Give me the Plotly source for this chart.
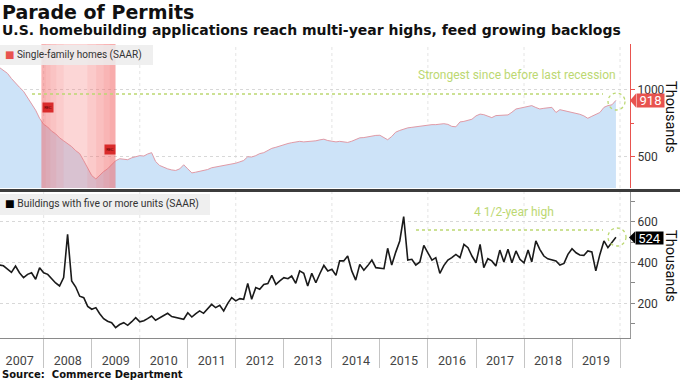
import pandas as pd
import plotly.graph_objects as go

# ---------------- data (thousands, SAAR), Jan 2007 .. Nov 2019 ----------------
months = pd.period_range("2007-01", "2019-11", freq="M")

single_family = [
    1160, 1140, 1118, 1080, 1045, 1015, 985, 940, 890, 845, 785, 740,
    720, 690, 670, 640, 618, 600, 575, 545, 523, 470, 415, 360,
    335, 364, 390, 410, 440, 470, 485, 480, 478, 492, 498, 508,
    505, 520, 530, 465, 435, 422, 410, 402, 398, 410, 440, 410,
    380, 385, 392, 400, 405, 418, 424, 428, 432, 438, 447, 452,
    462, 472, 500, 498, 508, 523, 530, 548, 562, 570, 580, 592,
    598, 604, 608, 614, 610, 612, 614, 618, 625, 630, 620, 614,
    610, 614, 610, 606, 615, 630, 640, 642, 648, 652, 658, 659,
    640, 626, 650, 682, 695, 705, 714, 718, 722, 726, 733, 735,
    738, 738, 740, 745, 740, 725, 722, 758, 762, 770, 778, 803,
    816, 812, 800, 790, 805, 808, 806, 810, 830, 854, 860, 866,
    868, 879, 865, 854, 859, 862, 866, 828, 849, 842, 836, 828,
    822, 815, 803, 785, 800, 816, 828, 866, 879, 885, 918,
]

five_plus = [
    388, 384, 368, 352, 383, 350, 326, 342, 350, 318, 375, 350,
    342, 320, 300, 285, 326, 538, 310, 280, 235, 228, 185, 171,
    179, 150, 125, 112, 105, 81, 96, 105, 92, 110, 130, 109,
    115, 125, 138, 117, 128, 141, 151, 135, 130, 125, 122, 154,
    133, 148, 163, 151, 175, 195, 179, 190, 163, 200, 228, 212,
    223, 220, 297, 220, 277, 269, 293, 297, 337, 293, 310, 326,
    321, 334, 298, 359, 347, 285, 347, 301, 345, 386, 359, 367,
    337, 408, 408, 432, 359, 314, 391, 362, 385, 412, 375, 372,
    370, 470, 388, 450, 506, 625, 412, 416, 388, 403, 484, 448,
    412, 424, 347, 385, 412, 424, 440, 424, 489, 473, 432, 399,
    489, 375, 419, 408, 383, 461, 403, 465, 399, 457, 416, 399,
    461, 403, 506, 465, 432, 418, 412, 408, 388, 396, 440, 468,
    448, 437, 435, 457, 452, 359, 440, 506, 473, 500, 524,
]

year_labels = list(range(2007, 2020))
top_ticks = [500, 1000]
bottom_ticks = [200, 400, 600]
bottom_minor = [100, 300, 500, 700]
recession = ("2007-12-15", "2009-06-30")
sf_last = single_family[-1]
mf_last = five_plus[-1]

dates = months.to_timestamp(how="end")

# ---------------- geometry helpers (pixel -> paper) ----------------
W, H = 680, 380
ML, MR, MT, MB = 0, 50, 44, 42
PW, PH = W - ML - MR, H - MT - MB


def PX(x):
    return (x - ML) / PW


def PY(y):
    return (H - MB - y) / PH


TOP_DOM = [PY(188), 1.0]
BOT_DOM = [0.0, PY(192)]

RED = "#e8534f"
GREEN = "#bcd872"
GRID = "#d8d8d8"
VGRID = "#e4e4e4"
TXT = "#333333"
FONT = "Roboto, DejaVu Sans, sans-serif"

fig = go.Figure()

fig.add_trace(go.Scatter(
    x=dates, y=single_family, xaxis="x", yaxis="y2", mode="lines",
    fill="tozeroy", fillcolor="#cde3f8",
    line=dict(color="#e09aa6", width=1), showlegend=False, hoverinfo="skip",
))
fig.add_trace(go.Scatter(
    x=dates, y=five_plus, xaxis="x", yaxis="y", mode="lines",
    line=dict(color="#1a1a1a", width=1.6), showlegend=False, hoverinfo="skip",
))

shapes = []
# vertical dotted gridlines every two years
for yr in range(2008, 2021, 2):
    for dom in (TOP_DOM, BOT_DOM):
        shapes.append(dict(type="line", xref="x", yref="paper",
                           x0=f"{yr}-01-01", x1=f"{yr}-01-01", y0=dom[0], y1=dom[1],
                           line=dict(color=VGRID, width=1, dash="dot"), layer="below"))

# recession shading with soft gradient (edges stronger)
shapes.append(dict(type="rect", xref="x", yref="paper", x0=recession[0], x1=recession[1],
                   y0=TOP_DOM[0], y1=TOP_DOM[1], fillcolor="rgba(246,120,120,0.30)",
                   line=dict(width=0), layer="above"))
r0 = pd.Timestamp(recession[0])
r1 = pd.Timestamp(recession[1])
span = r1 - r0
for f in (0.06, 0.12, 0.2, 0.3):
    shapes.append(dict(type="rect", xref="x", yref="paper", x0=r0, x1=r0 + span * f,
                       y0=TOP_DOM[0], y1=TOP_DOM[1], fillcolor="rgba(240,90,90,0.08)",
                       line=dict(width=0), layer="above"))
for f in (0.08, 0.16, 0.26, 0.38):
    shapes.append(dict(type="rect", xref="x", yref="paper", x0=r1 - span * f, x1=r1,
                       y0=TOP_DOM[0], y1=TOP_DOM[1], fillcolor="rgba(240,90,90,0.09)",
                       line=dict(width=0), layer="above"))

# separator between panels
shapes.append(dict(type="line", xref="paper", yref="paper", x0=PX(0), x1=PX(680),
                   y0=PY(190.5), y1=PY(190.5), line=dict(color="#3c3c3c", width=3)))

# legend boxes
shapes.append(dict(type="rect", xref="paper", yref="paper", x0=PX(0), x1=PX(153),
                   y0=PY(65), y1=PY(45), fillcolor="rgba(236,236,236,0.85)", line=dict(width=0)))
shapes.append(dict(type="rect", xref="paper", yref="paper", x0=PX(0), x1=PX(210),
                   y0=PY(215), y1=PY(194), fillcolor="rgba(236,236,236,0.85)", line=dict(width=0)))

# green reference lines and circles
shapes.append(dict(type="line", xref="paper", yref="paper", x0=PX(32), x1=PX(603),
                   y0=PY(94), y1=PY(94), line=dict(color=GREEN, width=1.5, dash="dot")))
shapes.append(dict(type="circle", xref="paper", yref="paper", x0=PX(608), x1=PX(625),
                   y0=PY(110), y1=PY(93), line=dict(color=GREEN, width=1.3, dash="dot")))
shapes.append(dict(type="line", xref="paper", yref="paper", x0=PX(416), x1=PX(603),
                   y0=PY(230), y1=PY(230), line=dict(color=GREEN, width=1.5, dash="dot")))
shapes.append(dict(type="circle", xref="paper", yref="paper", x0=PX(608), x1=PX(626),
                   y0=PY(246), y1=PY(228), line=dict(color=GREEN, width=1.3, dash="dot")))

# last-value tag pointers
shapes.append(dict(type="path", xref="paper", yref="paper",
                   path=f"M {PX(630)},{PY(100.5)} L {PX(636)},{PY(93.5)} L {PX(636)},{PY(107.5)} Z",
                   fillcolor=RED, line=dict(width=0)))
shapes.append(dict(type="path", xref="paper", yref="paper",
                   path=f"M {PX(629)},{PY(237.5)} L {PX(635)},{PY(231.5)} L {PX(635)},{PY(243.5)} Z",
                   fillcolor="#000000", line=dict(width=0)))

ann = []
ann.append(dict(text="<b>Parade of Permits</b>", x=PX(0), y=PY(12), xref="paper", yref="paper",
                xanchor="left", yanchor="middle", showarrow=False,
                font=dict(family="DejaVu Sans", size=19, color="#111")))
ann.append(dict(text="<b>U.S. homebuilding applications reach multi-year highs, feed growing backlogs</b>",
                x=PX(0), y=PY(30), xref="paper", yref="paper", xanchor="left", yanchor="middle",
                showarrow=False, font=dict(family="DejaVu Sans", size=14, color="#111")))
ann.append(dict(text="<b>Source:  Commerce Department</b>", x=PX(0), y=PY(374), xref="paper",
                yref="paper", xanchor="left", yanchor="middle", showarrow=False,
                font=dict(family="DejaVu Sans", size=10, color="#111")))
ann.append(dict(text=f"<span style='color:{RED}'>■</span> Single-family homes (SAAR)",
                x=PX(3), y=PY(55), xref="paper", yref="paper", xanchor="left", yanchor="middle",
                showarrow=False, font=dict(family=FONT, size=10, color=TXT)))
ann.append(dict(text="<span style='color:#000'>■</span> Buildings with five or more units (SAAR)",
                x=PX(3), y=PY(204), xref="paper", yref="paper", xanchor="left", yanchor="middle",
                showarrow=False, font=dict(family=FONT, size=10.3, color=TXT)))
ann.append(dict(text="Strongest since before last recession", x=PX(517), y=PY(75), xref="paper",
                yref="paper", xanchor="center", yanchor="middle", showarrow=False,
                font=dict(family=FONT, size=12, color=GREEN)))
ann.append(dict(text="4 1/2-year high", x=PX(514), y=PY(212), xref="paper", yref="paper",
                xanchor="center", yanchor="middle", showarrow=False,
                font=dict(family=FONT, size=12, color=GREEN)))
ann.append(dict(text=str(sf_last), x=PX(636), y=PY(100.5), xref="paper", yref="paper",
                xanchor="left", yanchor="middle", showarrow=False, bgcolor=RED,
                width=27, height=13, borderpad=0,
                font=dict(family=FONT, size=13, color="#ffffff")))
ann.append(dict(text=str(mf_last), x=PX(635), y=PY(237.5), xref="paper", yref="paper",
                xanchor="left", yanchor="middle", showarrow=False, bgcolor="#000000",
                width=27, height=12, borderpad=0,
                font=dict(family=FONT, size=13, color="#ffffff")))
for yy in (117, 266):
    ann.append(dict(text="Thousands", x=PX(671), y=PY(yy), xref="paper", yref="paper",
                    xanchor="center", yanchor="middle", showarrow=False, textangle=90,
                    borderpad=0, font=dict(family=FONT, size=14.5, color="#111")))
# recession markers
for (px, py) in ((48, 107), (110, 149)):
    ann.append(dict(text="REC", x=PX(px), y=PY(py), xref="paper", yref="paper",
                    xanchor="center", yanchor="middle", showarrow=False, bgcolor="#d92b2b",
                    width=10, height=9, borderpad=0,
                    font=dict(family=FONT, size=4, color="#5a0000")))

fig.update_layout(
    width=W, height=H, margin=dict(l=ML, r=MR, t=MT, b=MB, autoexpand=False),
    paper_bgcolor="white", plot_bgcolor="white",
    font=dict(family=FONT, color=TXT),
    showlegend=False,
    xaxis=dict(
        anchor="y", range=["2007-02-03", "2020-03-17"], type="date",
        dtick="M12", tick0="2008-01-01", tickformat="%Y", ticklabelmode="period",
        ticks="outside", ticklen=29, tickcolor="#c4c4c4", tickwidth=1,
        ticklabelstandoff=-18, automargin=False,
        showline=True, linecolor="#8a8a8a", linewidth=1, showgrid=False, zeroline=False,
        tickfont=dict(family=FONT, size=12.5, color="#444"),
    ),
    yaxis=dict(
        domain=BOT_DOM, anchor="x", side="right", range=[30, 746], automargin=False,
        tickmode="array", tickvals=bottom_ticks, ticks="outside", ticklen=4, tickcolor="#888",
        showline=True, linecolor="#9a9a9a", linewidth=1,
        showgrid=True, gridcolor=GRID, griddash="dot", zeroline=False,
        minor=dict(tickmode="array", tickvals=bottom_minor, ticks="outside", ticklen=4,
                   tickcolor="#888", showgrid=False),
        tickfont=dict(family=FONT, size=12, color=TXT),
    ),
    yaxis2=dict(
        domain=TOP_DOM, anchor="x", side="right", range=[268, 1336], automargin=False,
        tickmode="array", tickvals=top_ticks, ticks="outside", ticklen=4, tickcolor=RED,
        showline=True, linecolor=RED, linewidth=1,
        showgrid=True, gridcolor=GRID, griddash="dot", zeroline=False,
        minor=dict(tickmode="array", tickvals=[750], ticks="outside", ticklen=3,
                   tickcolor=RED, showgrid=False),
        tickfont=dict(family=FONT, size=12, color=TXT),
    ),
    shapes=shapes,
    annotations=ann,
)

fig.write_html(
    "out.html",
    config={"displayModeBar": False},
    post_script="document.body.style.margin='0';document.body.style.padding='0';",
)
